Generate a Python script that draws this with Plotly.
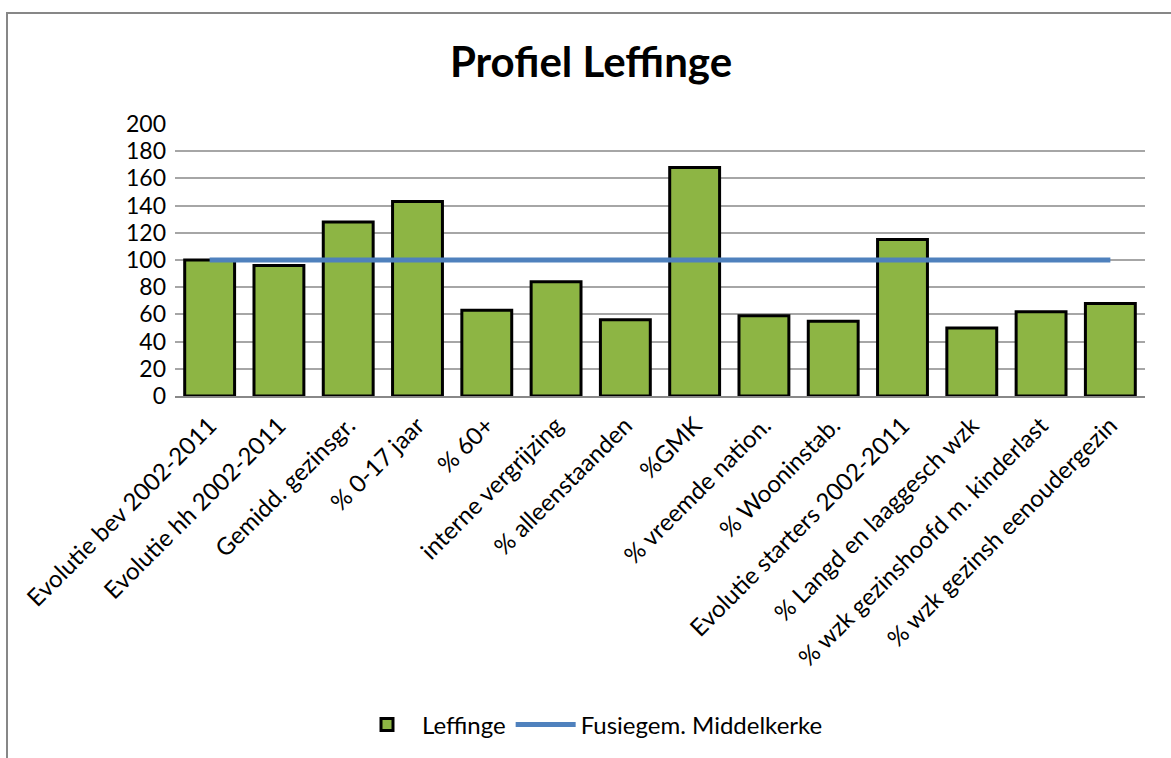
import plotly.graph_objects as go

categories = [
    "Evolutie bev 2002-2011",
    "Evolutie hh 2002-2011",
    "Gemidd. gezinsgr.",
    "% 0-17 jaar",
    "% 60+",
    "interne vergrijzing",
    "% alleenstaanden",
    "%GMK",
    "% vreemde nation.",
    "% Wooninstab.",
    "Evolutie starters 2002-2011",
    "% Langd en laaggesch wzk",
    "% wzk gezinshoofd m. kinderlast",
    "% wzk gezinsh eenoudergezin",
]
leffinge = [100, 96, 128, 143, 63, 84, 56, 168, 59, 55, 115, 50, 62, 68]
middelkerke = [100] * len(categories)
y_ticks = [0, 20, 40, 60, 80, 100, 120, 140, 160, 180, 200]

FONT = "Lato"
W, H = 1171, 758
L, R, T, B = 175, 26, 124, 362
pw, ph = W - L - R, H - T - B

def px2paper_x(px):
    return (px - L) / pw

def px2paper_y(py):
    return (H - B - py) / ph

fig = go.Figure()
fig.add_trace(go.Bar(
    x=categories, y=leffinge, name="Leffinge",
    marker=dict(color="#8DB544", line=dict(color="#000000", width=3)),
))
fig.add_trace(go.Scatter(
    x=categories, y=middelkerke, name="Fusiegem. Middelkerke",
    mode="lines", line=dict(color="#4F81BD", width=5),
))

fig.update_layout(
    width=W, height=H,
    margin=dict(l=L, r=R, t=T, b=B, autoexpand=False),
    paper_bgcolor="white", plot_bgcolor="white",
    font=dict(family=FONT, color="#000000", size=22),
    title=dict(text="<b>Profiel Leffinge</b>", x=px2paper_x(591), xref="paper",
               xanchor="center", y=1 - 62 / H, yanchor="middle",
               font=dict(family=FONT, size=42, color="#000000")),
    bargap=0.28,
    showlegend=True,
    legend=dict(orientation="h", x=px2paper_x(590), xanchor="center",
                y=px2paper_y(725), yanchor="middle",
                font=dict(family=FONT, size=24, color="#000000"),
                itemwidth=60, traceorder="normal"),
    shapes=[dict(type="rect", xref="paper", yref="paper",
                 x0=px2paper_x(7), x1=px2paper_x(1190),
                 y0=px2paper_y(13), y1=px2paper_y(780),
                 line=dict(color="#878787", width=2), layer="below")],
)
fig.update_xaxes(
    tickangle=-45, showline=True, linecolor="#888888", linewidth=2,
    tickfont=dict(family=FONT, size=24, color="#000000"),
    ticks="", showgrid=False, ticklabelstandoff=4,
)
fig.update_yaxes(
    range=[0, 200], tickvals=y_ticks, showgrid=True, gridcolor="#A6A6A6",
    gridwidth=2, zeroline=False, showline=False, ticks="",
    tickfont=dict(family=FONT, size=23, color="#000000"), ticklabelstandoff=8,
)

fig.write_html("out.html", config={"displayModeBar": False},
               post_script="document.body.style.margin='0';document.body.style.overflow='hidden';")
